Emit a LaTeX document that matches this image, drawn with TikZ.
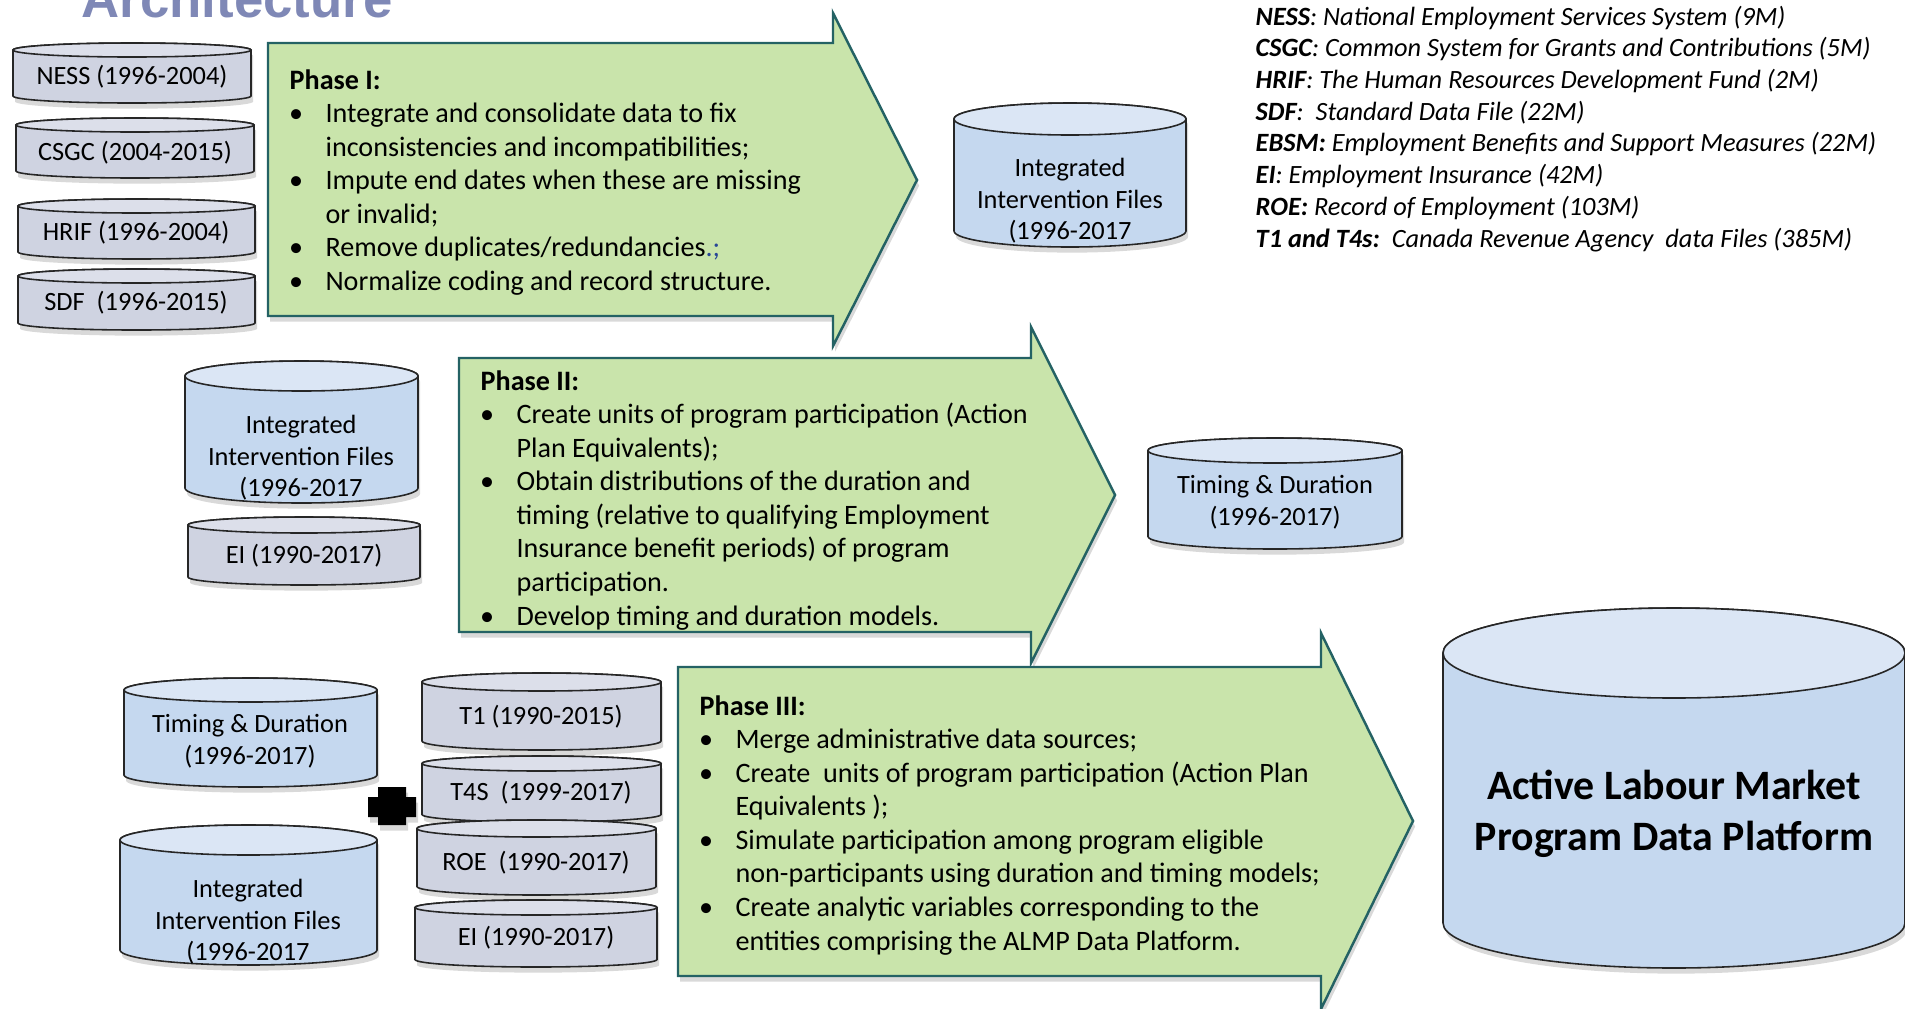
\documentclass[tikz,border=0pt]{standalone}
\usepackage{fontspec}
\setmainfont{Carlito}
\newfontfamily\titlefont{Liberation Sans}
\usetikzlibrary{shadows}
\definecolor{arrowfill}{RGB}{201,228,171}
\definecolor{arrowline}{RGB}{36,98,100}
\definecolor{graybody}{RGB}{207,211,225}
\definecolor{graytop}{RGB}{220,223,234}
\definecolor{bluebody}{RGB}{197,216,239}
\definecolor{bluetop}{RGB}{219,230,245}
\definecolor{titleblue}{RGB}{127,136,182}
\definecolor{markblue}{RGB}{40,70,150}
\newcommand{\dbcyl}[7]{%
  \filldraw[cylbody, fill=#6] (#1,{#3+#5}) -- (#1,{#4-#5})
    arc[start angle=180, end angle=0, x radius={(#2-#1)/2}, y radius=#5]
    -- (#2,{#3+#5})
    arc[start angle=0, end angle=-180, x radius={(#2-#1)/2}, y radius=#5] -- cycle;
  \filldraw[cyltop, fill=#7] ({(#1+#2)/2},{#3+#5}) ellipse[x radius={(#2-#1)/2}, y radius=#5];}
\newcommand{\pbul}{\makebox[10.2pt][l]{\hspace{-0.2pt}\textbullet}}
\newcommand{\phgap}{\hspace*{10.2pt}}
\begin{document}
\begin{tikzpicture}[x=0.01cm, y=-0.01cm,
	every node/.style={inner sep=0pt},
	cylbody/.style={draw=black!85, line width=0.45pt, drop shadow={shadow xshift=0.6pt, shadow yshift=-1.6pt, opacity=0.3}},
	cyltop/.style={draw=black!85, line width=0.45pt},
	phasearrow/.style={fill=arrowfill, draw=arrowline, line width=0.7pt, line join=miter, drop shadow={shadow xshift=0.6pt, shadow yshift=-1.6pt, opacity=0.3}},
	dbtext/.style={align=center, font=\fontsize{7.5}{9}\selectfont},
	phasetext/.style={anchor=base west, font=\fontsize{8}{9.55}\selectfont}]
	\useasboundingbox (0,0) rectangle (1905,1008);
	\node [anchor=base west, text=titleblue, font=\titlefont\bfseries\fontsize{15}{18}\selectfont] (title) at (81,17) {Architecture};
	\node [anchor=base west, font=\itshape\fontsize{7.5}{9.02}\selectfont] (legend) at (1255,25) {\begin{tabular}[t]{@{}l@{}}
		\textbf{NESS}: National Employment Services System (9M)\\
		\textbf{CSGC}: Common System for Grants and Contributions (5M)\\
		\textbf{HRIF}: The Human Resources Development Fund (2M)\\
		\textbf{SDF}:\ \ Standard Data File (22M)\\
		\textbf{EBSM:} Employment Benefits and Support Measures (22M)\\
		\textbf{EI}: Employment Insurance (42M)\\
		\textbf{ROE:} Record of Employment (103M)\\
		\textbf{T1 and T4s:}\ \ Canada Revenue Agency\ \ data Files (385M)
	\end{tabular}};
	\filldraw [phasearrow] (268,43) -- (833,43) -- (833,13) -- (917,180) -- (833,346) -- (833,316) -- (268,316) -- cycle;
	\filldraw [phasearrow] (459,358) -- (1031,358) -- (1031,327) -- (1115,495) -- (1031,663) -- (1031,632) -- (459,632) -- cycle;
	\filldraw [phasearrow] (678,667) -- (1321,667) -- (1321,633) -- (1413,821) -- (1321,1009) -- (1321,976) -- (678,976) -- cycle;
	\node [phasetext] (phaseone) at (289,89) {\begin{tabular}[t]{@{}l@{}}
		\textbf{Phase I:}\\
		\pbul Integrate and consolidate data to fix\\
		\phgap inconsistencies and incompatibilities;\\
		\pbul Impute end dates when these are missing\\
		\phgap or invalid;\\
		\pbul Remove duplicates/redundancies{\color{markblue}.;}\\
		\pbul Normalize coding and record structure.
	\end{tabular}};
	\node [phasetext] (phasetwo) at (480,390) {\begin{tabular}[t]{@{}l@{}}
		\textbf{Phase II:}\\
		\pbul Create units of program participation (Action\\
		\phgap Plan Equivalents);\\
		\pbul Obtain distributions of the duration and\\
		\phgap timing (relative to qualifying Employment\\
		\phgap Insurance benefit periods) of program\\
		\phgap participation.\\
		\pbul Develop timing and duration models.
	\end{tabular}};
	\node [phasetext] (phasethree) at (699,715) {\begin{tabular}[t]{@{}l@{}}
		\textbf{Phase III:}\\
		\pbul Merge administrative data sources;\\
		\pbul Create\ \ units of program participation (Action Plan\\
		\phgap Equivalents );\\
		\pbul Simulate participation among program eligible\\
		\phgap non-participants using duration and timing models;\\
		\pbul Create analytic variables corresponding to the\\
		\phgap entities comprising the ALMP Data Platform.
	\end{tabular}};
	\dbcyl{13}{251}{43}{103}{7}{graybody}{graytop}
	\node [dbtext] (ness) at (132,77) {NESS (1996-2004)};
	\dbcyl{16}{254}{118}{178}{7}{graybody}{graytop}
	\node [dbtext] (csgc) at (135,153) {CSGC (2004-2015)};
	\dbcyl{18}{255}{199}{259}{7}{graybody}{graytop}
	\node [dbtext] (hrif) at (136,233) {HRIF (1996-2004)};
	\dbcyl{18}{255}{269}{330}{7}{graybody}{graytop}
	\node [dbtext] (sdf) at (136,303) {SDF\ \ (1996-2015)};
	\dbcyl{954}{1186}{103}{247}{16}{bluebody}{bluetop}
	\node [dbtext] (intone) at (1070,201) {Integrated\\Intervention Files\\(1996-2017};
	\dbcyl{185}{418}{361}{503}{15}{bluebody}{bluetop}
	\node [dbtext] (inttwo) at (301,458) {Integrated\\Intervention Files\\(1996-2017};
	\dbcyl{188}{420}{517}{585}{8}{graybody}{graytop}
	\node [dbtext] (eitwo) at (304,556) {EI (1990-2017)};
	\dbcyl{1148}{1402}{438}{549}{12.5}{bluebody}{bluetop}
	\node [dbtext] (timingone) at (1275,502) {Timing \& Duration\\(1996-2017)};
	\dbcyl{124}{377}{678}{787}{12}{bluebody}{bluetop}
	\node [dbtext] (timingtwo) at (250,741) {Timing \& Duration\\(1996-2017)};
	\dbcyl{120}{377}{825}{965}{15}{bluebody}{bluetop}
	\node [dbtext] (intthree) at (248,922) {Integrated\\Intervention Files\\(1996-2017};
	\fill [black, drop shadow={shadow xshift=0.6pt, shadow yshift=-1.6pt, opacity=0.3}] (368,797) rectangle (416,817) (378,787) rectangle (406,825);
	\dbcyl{422}{661}{673}{750}{9}{graybody}{graytop}
	\node [dbtext] (tone) at (541,717) {T1 (1990-2015)};
	\dbcyl{422}{661}{756}{822}{7.5}{graybody}{graytop}
	\node [dbtext] (tfours) at (541,793) {T4S\ \ (1999-2017)};
	\dbcyl{417}{656}{820}{895}{8.5}{graybody}{graytop}
	\node [dbtext] (roe) at (536,863) {ROE\ \ (1990-2017)};
	\dbcyl{415}{657}{900}{967}{7.5}{graybody}{graytop}
	\node [dbtext] (eithree) at (536,938) {EI (1990-2017)};
	\dbcyl{1443}{1905}{608}{968}{45}{bluebody}{bluetop}
	\node [align=center, font=\bfseries\fontsize{11.9}{14.5}\selectfont] (almp) at (1674,814) {Active Labour Market\\Program Data Platform};
\end{tikzpicture}
\end{document}
